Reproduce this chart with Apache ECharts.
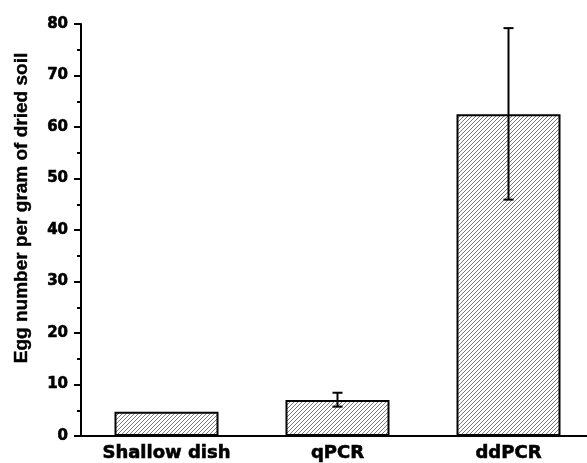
<!DOCTYPE html>
<html>
<head>
<meta charset="utf-8">
<script src="https://cdn.jsdelivr.net/npm/echarts@6/dist/echarts.min.js"></script>
<style>
  html, body { margin: 0; padding: 0; background: #fff; overflow: hidden; }
  #container { width: 594px; height: 463px; }
</style>
</head>
<body>
<div id="container"></div>
<script>
var categories = ['Shallow dish', 'qPCR', 'ddPCR'];
var means = [4.7, 7.0, 62.5];
var errLow = [4.7, 5.7, 45.9];
var errHigh = [4.7, 8.4, 79.2];
var yTicks = [0, 10, 20, 30, 40, 50, 60, 70, 80];

// hatch fill "/" in grey
var hatch = document.createElement('canvas');
hatch.width = 4;
hatch.height = 4;
var hc = hatch.getContext('2d');
hc.fillStyle = '#fff';
hc.fillRect(0, 0, 4, 4);
hc.strokeStyle = '#777';
hc.lineWidth = 1;
hc.beginPath();
hc.moveTo(0, 4); hc.lineTo(4, 0);
hc.moveTo(-1, 1); hc.lineTo(1, -1);
hc.moveTo(3, 5); hc.lineTo(5, 3);
hc.stroke();

var dom = document.getElementById('container');
var myChart = echarts.init(dom, null, { renderer: 'canvas' });

var errData = categories.map(function (c, i) {
  return [i, errLow[i], errHigh[i]];
}).filter(function (d) { return d[2] > d[1]; });

var option = {
  animation: false,
  grid: { left: 81, right: 0, top: 24, bottom: 27 },
  xAxis: {
    type: 'category',
    data: categories,
    axisLine: { lineStyle: { color: '#000', width: 2 } },
    axisTick: { show: false },
    axisLabel: {
      color: '#000',
      fontFamily: 'DejaVu Sans',
      fontWeight: 'bold',
      fontSize: 18,
      margin: 8,
      textBorderColor: '#000',
      textBorderWidth: 0.6
    }
  },
  yAxis: {
    type: 'value',
    min: yTicks[0],
    max: yTicks[yTicks.length - 1],
    interval: 10,
    name: 'Egg number per gram of dried soil',
    nameLocation: 'middle',
    nameGap: 50,
    nameTextStyle: {
      color: '#000',
      fontFamily: 'Liberation Sans, Arial',
      fontWeight: 'bold',
      fontSize: 19,
      padding: [0, 0, 0, 44],
      textBorderColor: '#000',
      textBorderWidth: 0.4
    },
    axisLine: { show: true, lineStyle: { color: '#000', width: 2 } },
    axisTick: { show: true, length: 7, lineStyle: { color: '#000', width: 2 } },
    minorTick: { show: true, splitNumber: 2, length: 4, lineStyle: { color: '#000', width: 2 } },
    splitLine: { show: false },
    axisLabel: {
      color: '#000',
      fontFamily: 'DejaVu Sans',
      fontWeight: 'bold',
      fontSize: 15,
      margin: 13,
      textBorderColor: '#000',
      textBorderWidth: 0.6
    }
  },
  series: [
    {
      type: 'bar',
      data: means,
      barWidth: 104,
      itemStyle: {
        color: { image: hatch, repeat: 'repeat' },
        borderColor: '#000',
        borderWidth: 2
      }
    },
    {
      type: 'custom',
      data: errData,
      z: 10,
      renderItem: function (params, api) {
        var lo = api.coord([api.value(0), api.value(1)]);
        var hi = api.coord([api.value(0), api.value(2)]);
        var w = 5;
        var st = { stroke: '#000', lineWidth: 2 };
        return {
          type: 'group',
          children: [
            { type: 'line', shape: { x1: hi[0], y1: hi[1], x2: lo[0], y2: lo[1] }, style: st },
            { type: 'line', shape: { x1: hi[0] - w, y1: hi[1], x2: hi[0] + w, y2: hi[1] }, style: st },
            { type: 'line', shape: { x1: lo[0] - w, y1: lo[1], x2: lo[0] + w, y2: lo[1] }, style: st }
          ]
        };
      }
    }
  ]
};

myChart.setOption(option);
window.addEventListener('resize', myChart.resize);
</script>
</body>
</html>
